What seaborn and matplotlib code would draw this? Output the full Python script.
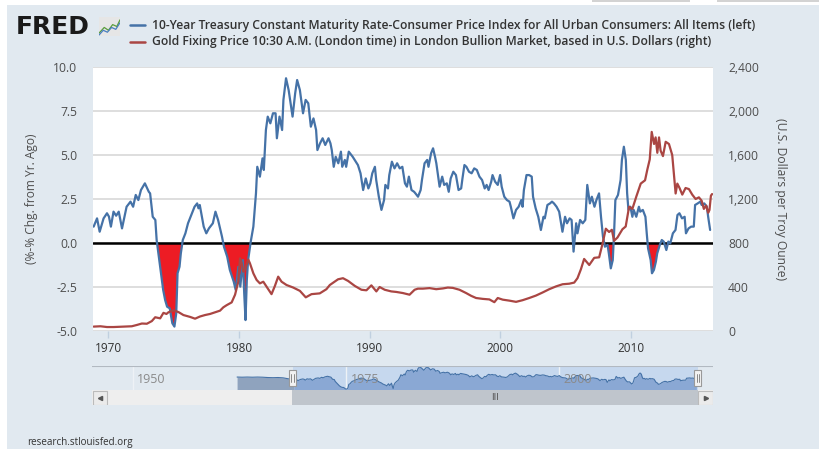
import matplotlib
matplotlib.use("Agg")
import matplotlib.pyplot as plt
from matplotlib.patches import Rectangle
from matplotlib.lines import Line2D
from matplotlib.ticker import FuncFormatter
import seaborn as sns
import numpy as np
import pandas as pd

# ---- values ----
# 10-year treasury minus CPI inflation (left axis, %)
rate_years = [
    1968.88, 1969.14, 1969.34, 1969.64, 1969.90, 1970.05, 1970.20, 1970.40, 1970.60, 1970.80,
    1971.05, 1971.40, 1971.70, 1971.90, 1972.10, 1972.30, 1972.50, 1972.80, 1973.10, 1973.20,
    1973.40, 1973.60, 1973.70, 1973.97, 1974.20, 1974.35, 1974.50, 1974.70, 1974.90, 1975.06,
    1975.20, 1975.30, 1975.45, 1975.55, 1975.70, 1975.90, 1976.10, 1976.40, 1976.60, 1976.80,
    1976.90, 1977.00, 1977.30, 1977.50, 1977.70, 1978.00, 1978.20, 1978.40, 1978.70, 1978.85,
    1979.10, 1979.30, 1979.60, 1979.75, 1979.95, 1980.10, 1980.30, 1980.40, 1980.50, 1980.60,
    1980.70, 1980.90, 1981.10, 1981.30, 1981.40, 1981.60, 1981.80, 1981.90, 1982.06, 1982.20,
    1982.40, 1982.60, 1982.80, 1982.90, 1983.10, 1983.30, 1983.40, 1983.60, 1983.80, 1984.10,
    1984.30, 1984.45, 1984.66, 1984.90, 1985.10, 1985.30, 1985.50, 1985.70, 1985.90, 1986.00,
    1986.20, 1986.40, 1986.60, 1986.85, 1987.00, 1987.10, 1987.25, 1987.40, 1987.60, 1987.80,
    1987.90, 1988.10, 1988.20, 1988.40, 1988.70, 1988.85, 1989.10, 1989.30, 1989.50, 1989.70,
    1989.90, 1990.05, 1990.20, 1990.40, 1990.50, 1990.70, 1990.90, 1991.10, 1991.20, 1991.40,
    1991.50, 1991.70, 1991.90, 1992.10, 1992.30, 1992.50, 1992.70, 1992.85, 1993.00, 1993.20,
    1993.40, 1993.50, 1993.70, 1993.90, 1994.00, 1994.20, 1994.40, 1994.50, 1994.70, 1994.85,
    1995.00, 1995.10, 1995.35, 1995.55, 1995.70, 1995.90, 1996.05, 1996.20, 1996.40, 1996.60,
    1996.80, 1997.00, 1997.10, 1997.25, 1997.40, 1997.60, 1997.80, 1998.00, 1998.20, 1998.40,
    1998.60, 1998.80, 1998.95, 1999.10, 1999.30, 1999.40, 1999.60, 1999.80, 1999.98, 2000.10,
    2000.30, 2000.50, 2000.70, 2000.80, 2001.00, 2001.20, 2001.40, 2001.60, 2001.70, 2001.80,
    2002.00, 2002.20, 2002.40, 2002.50, 2002.70, 2002.90, 2003.10, 2003.30, 2003.40, 2003.60,
    2003.80, 2003.95, 2004.10, 2004.30, 2004.50, 2004.75, 2004.95, 2005.10, 2005.30, 2005.45,
    2005.60, 2005.80, 2005.90, 2006.10, 2006.30, 2006.50, 2006.65, 2006.85, 2007.00, 2007.20,
    2007.35, 2007.55, 2007.70, 2007.85, 2008.00, 2008.20, 2008.30, 2008.45, 2008.60, 2008.65,
    2008.70, 2008.80, 2009.00, 2009.20, 2009.30, 2009.45, 2009.60, 2009.70, 2009.80, 2009.95,
    2010.10, 2010.20, 2010.40, 2010.60, 2010.70, 2010.90, 2011.10, 2011.20, 2011.30, 2011.50,
    2011.60, 2011.75, 2011.90, 2012.00, 2012.20, 2012.35, 2012.50, 2012.70, 2012.85, 2013.00,
    2013.20, 2013.40, 2013.55, 2013.70, 2013.90, 2014.10, 2014.20, 2014.40, 2014.60, 2014.80,
    2014.90, 2015.10, 2015.30, 2015.40, 2015.60, 2015.80, 2015.90, 2016.05,
]
rate_values = [
    0.93, 1.40, 0.64, 1.40, 1.69, 1.50, 0.93, 1.78, 1.55, 1.78,
    0.83, 2.06, 2.35, 2.06, 2.73, 2.44, 3.01, 3.39, 2.91, 2.82,
    1.49, 1.31, 0.17, -1.35, -2.67, -3.24, -3.62, -3.71, -4.56, -4.75,
    -4.00, -1.72, -1.35, -0.59, 0.17, 0.55, 1.12, 1.69, 2.06, 2.25,
    1.97, 2.16, 0.93, 0.55, 0.83, 1.12, 1.78, 1.31, 0.36, -0.21,
    -0.78, -1.53, -2.20, -2.67, -1.35, -2.48, -0.97, -2.86, -4.38, -2.10,
    -0.97, 0.08, 0.93, 2.82, 4.33, 3.77, 4.81, 4.15, 6.42, 7.18,
    6.80, 7.37, 7.37, 5.95, 7.18, 6.42, 8.13, 9.36, 8.69, 7.18,
    8.51, 9.26, 8.69, 7.37, 8.13, 7.94, 6.61, 7.08, 6.42, 5.28,
    5.66, 5.95, 5.57, 5.95, 5.66, 5.28, 4.33, 4.90, 4.53, 5.19,
    4.33, 4.72, 4.33, 5.19, 4.90, 4.72, 4.43, 3.96, 3.01, 3.67,
    3.10, 3.39, 3.96, 4.33, 3.58, 2.63, 1.88, 2.44, 3.30, 3.10,
    3.86, 4.62, 4.24, 4.53, 4.24, 4.33, 3.39, 3.20, 3.77, 3.01,
    2.91, 2.82, 2.63, 3.01, 3.58, 4.53, 4.72, 4.33, 5.10, 5.38,
    4.90, 4.53, 3.20, 3.77, 3.30, 3.39, 2.91, 3.67, 4.05, 3.86,
    3.01, 3.10, 3.67, 4.43, 4.33, 4.05, 3.96, 4.24, 4.15, 3.77,
    3.58, 3.10, 3.30, 3.01, 3.48, 3.86, 3.48, 3.30, 3.86, 3.20,
    2.63, 2.44, 2.35, 2.06, 1.40, 1.88, 2.06, 2.44, 2.06, 3.01,
    3.86, 3.86, 3.77, 2.63, 1.97, 1.49, 0.74, 1.49, 1.40, 2.16,
    2.25, 2.35, 2.25, 2.06, 1.78, 0.64, 1.49, 1.12, 1.40, 1.31,
    -0.49, 1.12, 0.55, 1.31, 1.12, 1.31, 3.30, 2.25, 2.63, 2.06,
    2.44, 2.82, 1.49, 0.36, -0.21, -0.11, -0.59, -1.44, -0.97, -0.21,
    0.55, 2.44, 2.73, 3.58, 4.72, 5.47, 4.72, 2.82, 1.88, 2.06,
    1.49, 1.88, 1.49, 2.06, 1.78, 1.88, 1.49, 0.55, -0.30, -0.97,
    -1.72, -1.53, -1.06, -0.59, -0.11, 0.17, 0.08, -0.40, 0.08, -0.02,
    0.55, 0.74, 1.59, 1.69, 1.40, 1.49, 0.55, 0.83, 0.93, 0.93,
    2.16, 2.25, 2.35, 2.16, 2.25, 2.06, 1.49, 0.74,
]

# gold fixing price (right axis, USD per troy ounce)
gold_years = [
    1968.88, 1969.40, 1969.90, 1970.40, 1970.90, 1971.40, 1971.80, 1972.19, 1972.57, 1972.95,
    1973.33, 1973.59, 1973.97, 1974.22, 1974.45, 1974.60, 1974.99, 1975.37, 1975.75, 1976.26,
    1976.64, 1977.02, 1977.40, 1977.79, 1978.17, 1978.55, 1978.80, 1979.06, 1979.44, 1979.70,
    1979.95, 1980.08, 1980.20, 1980.33, 1980.46, 1980.71, 1980.84, 1981.10, 1981.35, 1981.60,
    1981.86, 1982.11, 1982.49, 1982.75, 1983.00, 1983.26, 1983.64, 1984.15, 1984.66, 1985.11,
    1985.55, 1986.18, 1986.69, 1986.95, 1987.33, 1987.58, 1987.96, 1988.35, 1988.86, 1989.37,
    1989.75, 1990.13, 1990.51, 1990.76, 1991.15, 1991.65, 1992.04, 1992.54, 1993.05, 1993.44,
    1993.69, 1994.07, 1994.58, 1995.09, 1995.60, 1995.98, 1996.36, 1996.87, 1997.38, 1997.76,
    1998.14, 1998.65, 1999.16, 1999.54, 1999.80, 2000.18, 2000.69, 2001.20, 2001.70, 2002.21,
    2002.72, 2003.23, 2003.74, 2004.25, 2004.76, 2005.27, 2005.65, 2005.90, 2006.16, 2006.41,
    2006.80, 2007.18, 2007.56, 2007.81, 2008.07, 2008.32, 2008.53, 2008.70, 2008.96, 2009.34,
    2009.59, 2009.85, 2010.10, 2010.41, 2010.74, 2011.07, 2011.25, 2011.43, 2011.58, 2011.76,
    2011.88, 2012.01, 2012.14, 2012.26, 2012.44, 2012.65, 2012.90, 2013.15, 2013.28, 2013.41,
    2013.54, 2013.71, 2013.92, 2014.17, 2014.43, 2014.68, 2014.94, 2015.19, 2015.40, 2015.57,
    2015.75, 2015.90, 2016.00, 2016.11, 2016.20,
]
gold_values = [
    40, 43, 36, 36, 38, 41, 43, 55, 68, 66,
    90, 125, 115, 165, 155, 170, 188, 172, 145, 128,
    112, 132, 145, 155, 170, 185, 215, 235, 260, 330,
    450, 660, 620, 540, 560, 650, 615, 524, 464, 433,
    448, 403, 335, 410, 494, 448, 418, 395, 365, 306,
    335, 342, 380, 418, 450, 470, 480, 455, 410, 375,
    370, 415, 360, 400, 375, 360, 355, 345, 330, 375,
    385, 385, 390, 380, 387, 395, 392, 375, 345, 320,
    300, 292, 287, 262, 300, 285, 276, 265, 280, 300,
    322, 350, 380, 405, 425, 430, 440, 480, 560, 655,
    600, 665, 670, 790, 930, 900, 920, 820, 850, 925,
    950, 1130, 1110, 1225, 1340, 1370, 1470, 1560, 1810, 1700,
    1760, 1620, 1760, 1640, 1590, 1720, 1700, 1600, 1420, 1250,
    1340, 1300, 1240, 1300, 1290, 1240, 1200, 1215, 1185, 1110,
    1140, 1075, 1100, 1230, 1245,
]

# navigator also shows the series before the selected window
nav_years_early = [1962.2, 1962.8, 1963.4, 1964.0, 1964.6, 1965.2, 1965.8, 1966.4, 1967.0, 1967.6, 1968.2, 1968.6]
nav_values_early = [2.9, 2.8, 2.9, 2.8, 2.9, 2.8, 2.6, 2.5, 2.6, 2.4, 1.8, 1.4]

left_ticks = [-5.0, -2.5, 0.0, 2.5, 5.0, 7.5, 10.0]
right_ticks = [0, 400, 800, 1200, 1600, 2000, 2400]
year_ticks = [1970, 1980, 1990, 2000, 2010]
nav_ticks = [1950, 1975, 2000]

legend_labels = [
    "10-Year Treasury Constant Maturity Rate-Consumer Price Index for All Urban Consumers: All Items (left)",
    "Gold Fixing Price 10:30 A.M. (London time) in London Bullion Market, based in U.S. Dollars (right)",
]
left_label = "(%-% Chg. from Yr. Ago)"
right_label = "(U.S. Dollars per Troy Ounce)"

# ---- style ----
BG = "#e1e9f0"
BLUE = "#4572a7"
RED = "#aa4643"
FILL = "#ed1c24"
TXT = "#4d4d4d"
W, H = 819, 453

sns.set_theme(style="white")
plt.rcParams['font.family'] = ['Open Sans', 'DejaVu Sans']


def box(x0, y0, x1, y1):
    # pixel box (top-left origin) -> figure fraction rect
    return [x0 / W, 1 - y1 / H, (x1 - x0) / W, (y1 - y0) / H]


fig = plt.figure(figsize=(W / 100, H / 100), dpi=100, facecolor="white")
fig.patches.append(Rectangle((7 / W, 1 - 449 / H), (W - 7) / W, 444 / H,
                             transform=fig.transFigure, facecolor=BG, edgecolor="none", zorder=-10))
for bx0, bx1 in [(592, 690), (717, 819)]:
    fig.patches.append(Rectangle((bx0 / W, 1 - 2 / H), (bx1 - bx0) / W, 2 / H,
                                 transform=fig.transFigure, facecolor="#d3d3d3", edgecolor="none",
                                 zorder=-10))

rate = pd.DataFrame({"year": rate_years, "value": rate_values})
gold = pd.DataFrame({"year": gold_years, "value": gold_values})

# ---- main chart ----
ax = fig.add_axes(box(93, 67, 713, 331))
ax.set_facecolor("white")
ax.fill_between(rate["year"], rate["value"], 0, where=rate["value"] < 0,
                interpolate=True, color=FILL, lw=0, zorder=1)
ax.axhline(0, color="black", lw=1.8, zorder=3)
sns.lineplot(data=rate, x="year", y="value", ax=ax, color=BLUE, lw=1.6, zorder=4)
ax.set_xlim(1968.83, 2016.27)
ax.set_ylim(-5, 10)
ax.set_yticks(left_ticks)
ax.yaxis.set_major_formatter(FuncFormatter(lambda v, p: f"{v:.1f}"))
ax.set_xticks(year_ticks)
ax.yaxis.grid(True, color="#d8d8d8", lw=1.2)
ax.xaxis.grid(False)
ax.set_axisbelow(True)
ax.set_xlabel("")
ax.set_ylabel("")
for s in ax.spines.values():
    s.set_visible(False)
ax.tick_params(axis="y", length=0, pad=11.5, labelsize=8.7, labelcolor=TXT)
ax.tick_params(axis="x", bottom=True, length=5, width=1, color="#c0d0e0", direction="out",
               pad=3, labelsize=8.5, labelcolor="#333333")

ax2 = ax.twinx()
sns.lineplot(data=gold, x="year", y="value", ax=ax2, color=RED, lw=1.6)
ax2.set_ylim(0, 2400)
ax2.set_yticks(right_ticks)
ax2.yaxis.set_major_formatter(FuncFormatter(lambda v, p: f"{int(v):,}"))
ax2.set_xlim(1968.83, 2016.27)
ax2.set_ylabel("")
ax2.grid(False)
for s in ax2.spines.values():
    s.set_visible(False)
ax2.tick_params(axis="y", length=0, pad=10.8, labelsize=8.7, labelcolor=TXT)

fig.text(32 / W, 1 - 199 / H, left_label, rotation=90, ha="center", va="center",
         fontsize=8.6, color=TXT)
fig.text(781 / W, 1 - 199 / H, right_label, rotation=270, ha="center", va="center",
         fontsize=8.7, color=TXT)

# ---- header: logo + legend ----
fig.text(16 / W, 1 - 27 / H, "FRED", fontsize=18, weight="heavy", family="DejaVu Sans",
         color="#1a1a1a", ha="left", va="center")
icon = fig.add_axes(box(99, 17, 120, 36))
icon.set_facecolor("#e6e6e6")
icon.plot([0, 0.25, 0.45, 0.65, 0.85, 1], [0.15, 0.45, 0.3, 0.6, 0.5, 0.85], color="#5b9e3c", lw=0.9)
icon.plot([0, 0.2, 0.4, 0.6, 0.8, 1], [0.05, 0.3, 0.2, 0.45, 0.35, 0.7], color="#4a7fc0", lw=0.9)
icon.set_xlim(0, 1)
icon.set_ylim(0, 1)
icon.set_xticks([])
icon.set_yticks([])
for s in icon.spines.values():
    s.set_visible(False)

for i, (label, color) in enumerate(zip(legend_labels, [BLUE, RED])):
    yy = 1 - (25 + 16.5 * i) / H
    fig.add_artist(Line2D([130 / W, 145 / W], [yy, yy], color=color, lw=1.8))
    fig.text(152 / W, yy, label, fontsize=8.7, weight="semibold", color="#333333",
             ha="left", va="center")

# ---- navigator ----
nav = fig.add_axes(box(92, 366, 713, 390))
nav.set_facecolor(BG)
nav_x = nav_years_early + rate_years
nav_y = nav_values_early + rate_values
nav_df = pd.DataFrame({"year": nav_x, "value": nav_y})
sel_lo, sel_hi = 1968.7, 2016.2
nav.axvspan(sel_lo, sel_hi, color="#c6d8ee", lw=0, zorder=0)
for t in nav_ticks:
    nav.axvline(t, color="#eef2f6", lw=1, zorder=0.5)
    nav.text(t + 0.5, 0.45, str(t), transform=nav.get_xaxis_transform(), fontsize=9,
             color="#8a8a8a", va="center", ha="left", zorder=3)
nav.fill_between(nav_df["year"], nav_df["value"], -5.3, where=nav_df["year"] <= sel_lo + 0.2,
                 color="#8fa3be", lw=0, zorder=1)
nav.fill_between(nav_df["year"], nav_df["value"], -5.3, where=nav_df["year"] >= sel_lo,
                 color="#8aa8d4", lw=0, zorder=1)
sns.lineplot(data=nav_df, x="year", y="value", ax=nav, color=BLUE, lw=0.8, zorder=2)
nav.set_xlim(1945.19, 2018.0)
nav.set_ylim(-5.3, 9.9)
nav.set_xticks([])
nav.set_yticks([])
nav.set_xlabel("")
nav.set_ylabel("")
for s in nav.spines.values():
    s.set_visible(False)
nav.axhline(9.9, color="#b2b9c1", lw=1.5, zorder=4)
for hx in [sel_lo, sel_hi]:
    nav.add_patch(Rectangle((hx - 0.4, 0.18), 0.8, 0.65, transform=nav.get_xaxis_transform(),
                            facecolor="#f2f2f2", edgecolor="#999999", lw=0.8, zorder=5))
    for dx in (-0.12, 0.12):
        nav.plot([hx + dx, hx + dx], [0.33, 0.68], transform=nav.get_xaxis_transform(),
                 color="#777777", lw=0.6, zorder=6)

# ---- scrollbar ----
sb = fig.add_axes(box(92, 390, 713, 405))
sb.set_facecolor("#eeeeee")
sb.set_xlim(0, 621)
sb.set_ylim(0, 15)
sb.add_patch(Rectangle((200, 0), 406, 15, facecolor="#bfc5cc", edgecolor="none"))
sb.add_patch(Rectangle((0.5, 0.5), 14, 14, facecolor="#ebebeb", edgecolor="#bbbbbb", lw=0.8))
sb.add_patch(Rectangle((606, 0.5), 14.5, 14, facecolor="#ebebeb", edgecolor="#bbbbbb", lw=0.8))
sb.plot([7.5], [7.5], marker="<", color="#555555", ms=3)
sb.plot([613.5], [7.5], marker=">", color="#555555", ms=3)
sb.text(403, 7.5, "III", fontsize=6.5, color="#555555", ha="center", va="center",
        family="DejaVu Sans")
sb.set_xticks([])
sb.set_yticks([])
for s in sb.spines.values():
    s.set_visible(False)

fig.text(27 / W, 1 - 442 / H, "research.stlouisfed.org", fontsize=7.1, color="#333333",
         ha="left", va="center")

fig.savefig("out.png", dpi=100, facecolor=fig.get_facecolor())
